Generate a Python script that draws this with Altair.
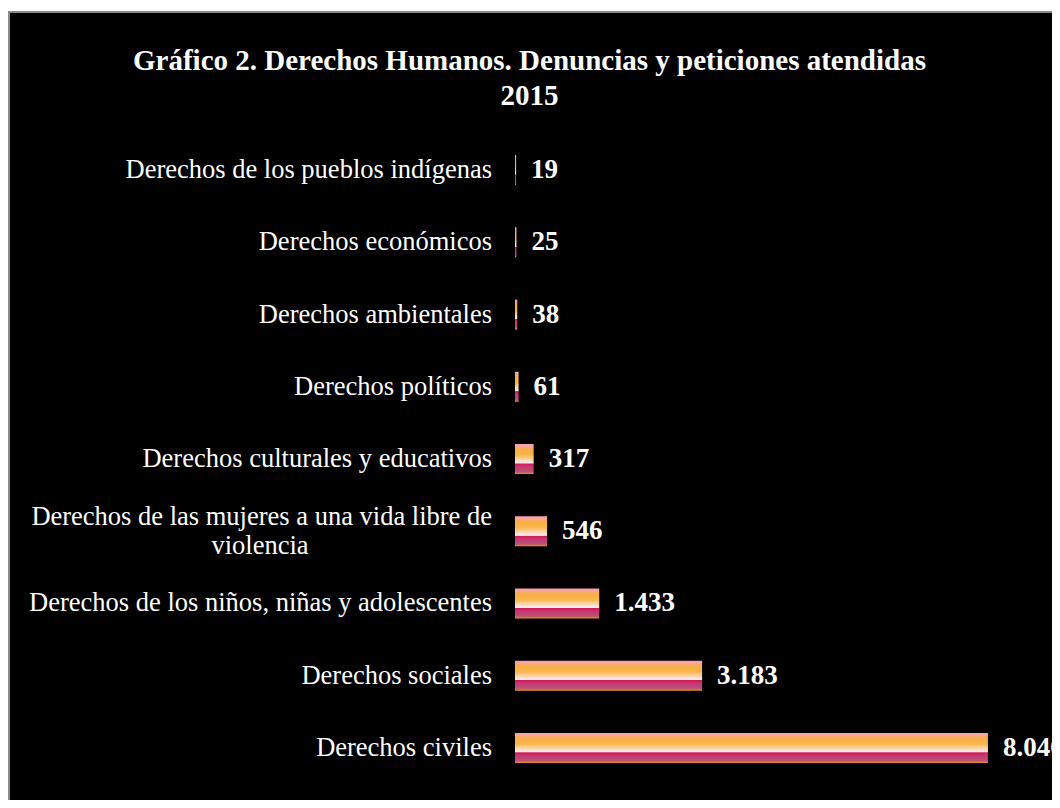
import altair as alt
import pandas as pd

categories = [
    "Derechos de los pueblos indígenas",
    "Derechos económicos",
    "Derechos ambientales",
    "Derechos políticos",
    "Derechos culturales y educativos",
    "Derechos de las mujeres a una vida libre de violencia",
    "Derechos de los niños, niñas y adolescentes",
    "Derechos sociales",
    "Derechos civiles",
]
line1 = [
    "Derechos de los pueblos indígenas",
    "Derechos económicos",
    "Derechos ambientales",
    "Derechos políticos",
    "Derechos culturales y educativos",
    "Derechos de las mujeres a una vida libre de",
    "Derechos de los niños, niñas y adolescentes",
    "Derechos sociales",
    "Derechos civiles",
]
line2 = ["", "", "", "", "", "violencia", "", "", ""]
values = [19, 25, 38, 61, 317, 546, 1433, 3183, 8046]

df = pd.DataFrame({
    "cat": categories,
    "l1": line1,
    "l2": line2,
    "value": values,
    "label": [f"{v:,}".replace(",", ".") for v in values],
    "two": [1 if s else 0 for s in line2],
})

FONT = "Liberation Serif"

grad = alt.LinearGradient(
    gradient="linear", x1=0, y1=0, x2=0, y2=1,
    stops=[
        alt.GradientStop(offset=0.0, color="#f79fb6"),
        alt.GradientStop(offset=0.08, color="#f8a69c"),
        alt.GradientStop(offset=0.16, color="#f8ae4a"),
        alt.GradientStop(offset=0.36, color="#f9b548"),
        alt.GradientStop(offset=0.56, color="#fcdcc8"),
        alt.GradientStop(offset=0.64, color="#fff2f2"),
        alt.GradientStop(offset=0.66, color="#d2145a"),
        alt.GradientStop(offset=0.75, color="#c8386c"),
        alt.GradientStop(offset=0.88, color="#b84c7a"),
        alt.GradientStop(offset=0.94, color="#c05a60"),
        alt.GradientStop(offset=1.0, color="#f0903a"),
    ],
)

frame = alt.Chart(alt.Data(values=[{}])).mark_rect(
    fill="black", stroke="#8a8a8a", strokeWidth=2
).encode(
    x=alt.value(-506), x2=alt.value(700), y=alt.value(-122), y2=alt.value(800)
)

y_enc = alt.Y("cat:N", sort=categories,
              axis=alt.Axis(labels=False, ticks=False, title=None, grid=False,
                            domainColor="#8a8a8a", domainWidth=1.5))
x_enc = alt.X("value:Q", scale=alt.Scale(domain=[0, 9000]), axis=None)

bars = alt.Chart(df).mark_bar(size=30, color=grad).encode(x=x_enc, y=y_enc)

vals = alt.Chart(df).mark_text(
    align="left", baseline="middle", dx=15, font=FONT, fontWeight="bold",
    fontSize=27, color="white"
).encode(x=x_enc, y=alt.Y("cat:N", sort=categories), text="label:N")

cat1_single = alt.Chart(df).transform_filter("datum.two == 0").mark_text(
    align="right", baseline="middle", font=FONT, fontSize=26.5, color="white"
).encode(x=alt.value(-23), y=alt.Y("cat:N", sort=categories), text="l1:N")

cat1_double = alt.Chart(df).transform_filter("datum.two == 1").mark_text(
    align="right", baseline="middle", font=FONT, fontSize=26.5, color="white", dy=-14
).encode(x=alt.value(-23), y=alt.Y("cat:N", sort=categories), text="l1:N")

cat2 = alt.Chart(df).transform_filter("datum.two == 1").mark_text(
    align="center", baseline="middle", font=FONT, fontSize=26.5, color="white", dy=15
).encode(x=alt.value(-255), y=alt.Y("cat:N", sort=categories), text="l2:N")

chart = alt.layer(frame, bars, vals, cat1_single, cat1_double, cat2).properties(
    width=529,
    height=650,
    autosize=alt.AutoSizeParams(type="none"),
    padding={"left": 507, "top": 126, "right": 8, "bottom": 16},
    title=alt.TitleParams(
        text=["Gráfico 2. Derechos Humanos. Denuncias y peticiones atendidas", "2015"],
        font=FONT, fontSize=29, fontWeight="bold", color="white",
        anchor="middle", dx=-250, offset=-100, lineHeight=35,
    ),
).configure_view(stroke=None).configure(background="white")

chart.save("out.html", embed_options={"renderer": "svg", "actions": False})
